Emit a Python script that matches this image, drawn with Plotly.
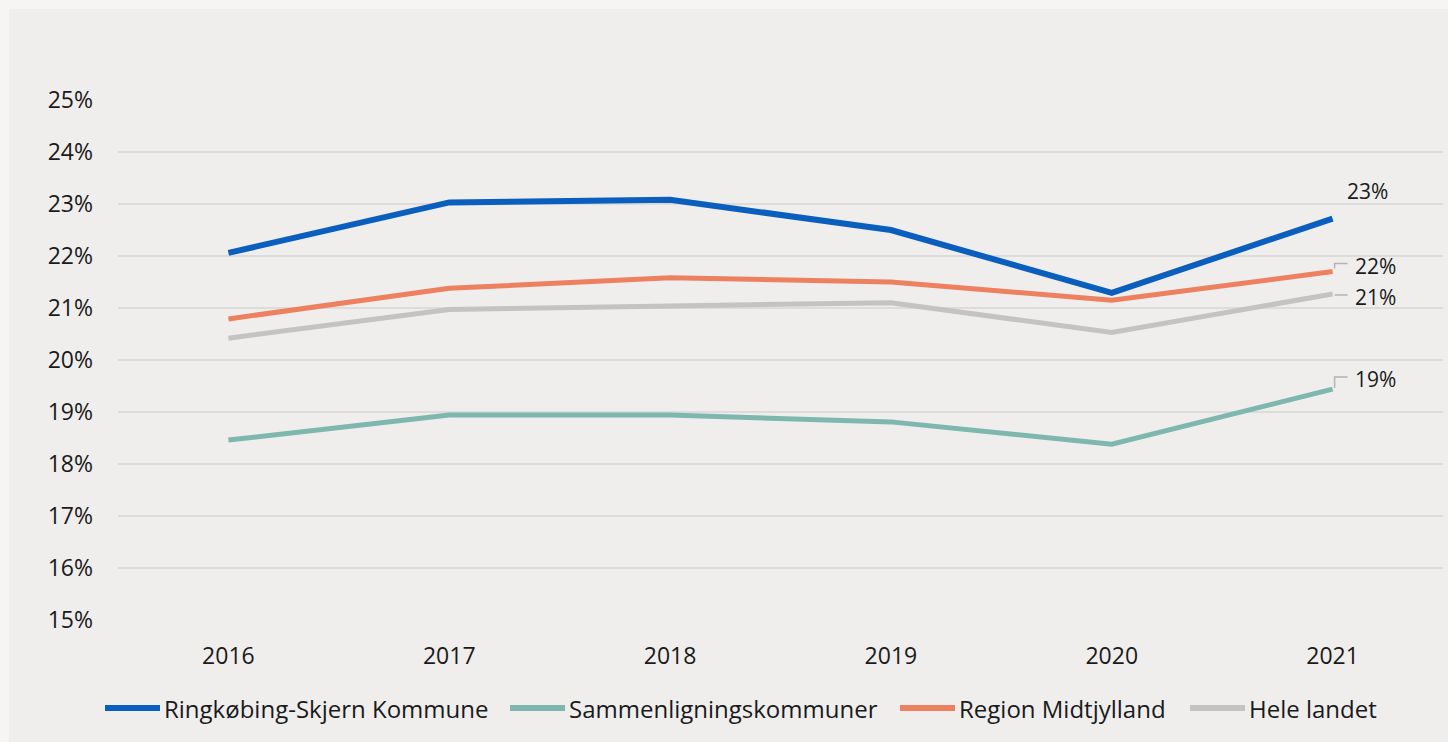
import plotly.graph_objects as go

# Andel i procent, 2016-2021
years = ["2016", "2017", "2018", "2019", "2020", "2021"]
ringkobing = [22.06, 23.03, 23.08, 22.50, 21.29, 22.72]
sammenligning = [18.46, 18.94, 18.94, 18.81, 18.38, 19.44]
region_midt = [20.79, 21.38, 21.58, 21.50, 21.15, 21.70]
hele_landet = [20.42, 20.97, 21.04, 21.10, 20.53, 21.27]

y_ticks = [15, 16, 17, 18, 19, 20, 21, 22, 23, 24, 25]
y_tick_text = [f"{v}%" for v in y_ticks]

series = [
    ("Ringkøbing-Skjern Kommune", ringkobing, "#0a5ebd", 6),
    ("Sammenligningskommuner", sammenligning, "#7db7af", 5),
    ("Region Midtjylland", region_midt, "#ec805f", 5),
    ("Hele landet", hele_landet, "#c3c3c3", 5),
]

FONT = "Open Sans"
TEXT = "#1a1a1a"
W, H = 1448, 742
ML, MR, MT, MB = 118, 5, 100, 122
PW, PH = W - ML - MR, H - MT - MB


def px_x(px):
    return (px - ML) / PW


def px_y(py):
    return (H - MB - py) / PH


fig = go.Figure()
for name, vals, color, width in series:
    fig.add_trace(go.Scatter(
        x=years, y=vals, name=name, mode="lines",
        line=dict(color=color, width=width),
        showlegend=False,
    ))

# End labels (value of the last year), with small elbow leaders
last = len(years) - 1
end_labels = [
    (ringkobing, 35, 28, None),
    (region_midt, 43, 6, "M 2,3 L 2,8 L 15,8"),
    (hele_landet, 43, -3, "M 2,-1 L 15,-1"),
    (sammenligning, 43, 10, "M 2,1 L 2,12 L 15,12"),
]
for vals, dx, dy, leader in end_labels:
    fig.add_annotation(
        x=last, y=vals[-1], xref="x", yref="y",
        text=f"{round(vals[-1])}%", showarrow=False,
        xshift=dx, yshift=dy,
        font=dict(family=FONT, size=21, color=TEXT),
    )
    if leader:
        fig.add_shape(
            type="path", xref="x", yref="y",
            xsizemode="pixel", ysizemode="pixel",
            xanchor=last, yanchor=vals[-1],
            path=leader, line=dict(color="#b3b3b3", width=1.5),
        )

# Legend row drawn below the axis
legend_x = [105, 510, 900, 1190]
for (name, _, color, width), x0 in zip(series, legend_x):
    fig.add_shape(type="line", xref="paper", yref="paper",
                  x0=px_x(x0), x1=px_x(x0 + 55), y0=px_y(708), y1=px_y(708),
                  line=dict(color=color, width=6))
    fig.add_annotation(xref="paper", yref="paper", x=px_x(x0 + 57), y=px_y(708),
                       xanchor="left", yanchor="middle", showarrow=False,
                       text=name, font=dict(family=FONT, size=24, color=TEXT))

# Inner panel
fig.add_shape(type="rect", xref="paper", yref="paper",
              x0=px_x(9), x1=px_x(W + 5), y0=px_y(H + 5), y1=px_y(9),
              fillcolor="#efeeed", line=dict(width=0), layer="below")

fig.update_layout(
    width=W, height=H,
    margin=dict(l=ML, r=MR, t=MT, b=MB),
    paper_bgcolor="#f6f5f3",
    plot_bgcolor="#efeeed",
    font=dict(family=FONT, size=23, color=TEXT),
    showlegend=False,
    xaxis=dict(
        type="category", range=[-0.5, 5.5],
        showgrid=False, zeroline=False, showline=False, ticks="",
        tickfont=dict(family=FONT, size=23, color=TEXT),
        ticklabelstandoff=20,
    ),
    yaxis=dict(
        range=[15, 25], tickvals=y_ticks, ticktext=y_tick_text,
        showgrid=True, gridcolor="#dddcda", gridwidth=2,
        zeroline=False, showline=False, ticks="",
        tickfont=dict(family=FONT, size=23, color=TEXT),
        ticklabelstandoff=24,
    ),
)

fig.write_html("out.html")
